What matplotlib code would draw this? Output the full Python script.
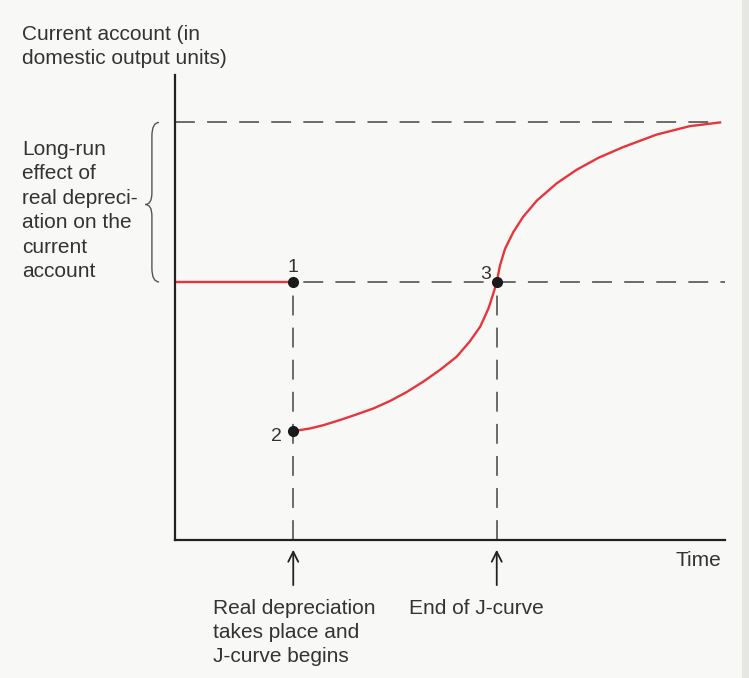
import numpy as np
import matplotlib
matplotlib.use("Agg")
import matplotlib.pyplot as plt
from matplotlib.path import Path
from matplotlib.patches import PathPatch, Rectangle

plt.rcParams['font.family'] = ['Liberation Sans', 'DejaVu Sans']

# Data (time units on x, current account on y)
t_depreciation = 2.15
t_end_jcurve = 5.85
ca_initial = 5.55
ca_dip = 2.34
ca_long_run = 8.98

# J-curve after the depreciation
curve_t = [2.15, 2.46, 2.70, 3.00, 3.30, 3.61, 3.91, 4.21, 4.52, 4.82,
           5.12, 5.36, 5.55, 5.70, 5.79, 5.85, 5.91, 6.00, 6.15, 6.33,
           6.58, 6.94, 7.30, 7.70, 8.15, 8.76, 9.36, 9.91]
curve_ca = [2.34, 2.40, 2.47, 2.58, 2.70, 2.83, 2.99, 3.18, 3.41, 3.66,
            3.94, 4.27, 4.59, 4.98, 5.31, 5.55, 5.91, 6.26, 6.62, 6.95,
            7.30, 7.67, 7.96, 8.22, 8.45, 8.72, 8.90, 8.98]

point_labels = ['1', '2', '3']
point_t = [t_depreciation, t_depreciation, t_end_jcurve]
point_ca = [ca_initial, ca_dip, ca_initial]

red = '#e5363d'
dark = '#333333'
dash_style = (0, (13, 8))

fig = plt.figure(figsize=(7.49, 6.78), dpi=100, facecolor='#f8f8f6')
fig.patches.append(Rectangle((0.991, 0), 0.009, 1, transform=fig.transFigure,
                             facecolor='#e6e6e3', edgecolor='none'))
ax = fig.add_axes([175 / 749, 138 / 678, 550 / 749, 465 / 678])
ax.set_facecolor('none')
ax.set_xlim(0, 10)
ax.set_ylim(0, 10)
for s in ['top', 'right']:
    ax.spines[s].set_visible(False)
for s in ['left', 'bottom']:
    ax.spines[s].set_linewidth(1.6)
    ax.spines[s].set_color('#222222')
ax.set_xticks([])
ax.set_yticks([])

# dashed guide lines
ax.plot([0, 9.91], [ca_long_run, ca_long_run], color='#444444', lw=1.1, linestyle=dash_style)
ax.plot([0, 10], [ca_initial, ca_initial], color='#444444', lw=1.1, linestyle=dash_style)
ax.plot([t_depreciation, t_depreciation], [0, ca_initial], color='#444444', lw=1.1, linestyle=dash_style)
ax.plot([t_end_jcurve, t_end_jcurve], [0, ca_initial], color='#444444', lw=1.1, linestyle=dash_style)

# current account path
ax.plot([0, t_depreciation], [ca_initial, ca_initial], color=red, lw=1.7, solid_capstyle='butt')
ax.plot(curve_t, curve_ca, color=red, lw=1.7, solid_joinstyle='round')

ax.plot(point_t, point_ca, 'o', color='#1a1a1a', markersize=7, zorder=5)
ax.text(point_t[0], point_ca[0] + 0.12, point_labels[0], ha='center', va='bottom', fontsize=14, color=dark)
ax.text(point_t[1] - 0.2, point_ca[1] - 0.12, point_labels[1], ha='right', va='center', fontsize=14, color=dark)
ax.text(point_t[2] - 0.1, point_ca[2] - 0.02, point_labels[2], ha='right', va='bottom', fontsize=14, color=dark)

# brace for the long-run effect
xr, xm, xl = -0.29, -0.42, -0.54
top, bot = ca_long_run, ca_initial
mid = (top + bot) / 2 - 0.05
verts = [(xr, top), (xm, top), (xm, top - 0.3),
         (xm, mid + 0.25), (xm, mid), (xl, mid),
         (xm, mid), (xm, mid - 0.25),
         (xm, bot + 0.3), (xm, bot), (xr, bot)]
codes = [Path.MOVETO, Path.CURVE3, Path.CURVE3,
         Path.LINETO, Path.CURVE3, Path.CURVE3,
         Path.CURVE3, Path.CURVE3,
         Path.LINETO, Path.CURVE3, Path.CURVE3]
ax.add_patch(PathPatch(Path(verts, codes), facecolor='none', edgecolor='#555555',
                       lw=1.0, clip_on=False))

# arrows under the time axis
for t in [t_depreciation, t_end_jcurve]:
    ax.annotate('', xy=(t, -0.15), xytext=(t, -1.03), xycoords='data',
                arrowprops=dict(arrowstyle='->', color='#222222', lw=1.3,
                                mutation_scale=18), annotation_clip=False)

fs = 15
fig.text(22 / 749, 1 - 25 / 678, 'Current account (in\ndomestic output units)',
         ha='left', va='top', fontsize=fs, color=dark, linespacing=1.3)
fig.text(22 / 749, 1 - 140 / 678,
         'Long-run\neffect of\nreal depreci-\nation on the\ncurrent\naccount',
         ha='left', va='top', fontsize=fs, color=dark, linespacing=1.36)
fig.text(721 / 749, 1 - 560 / 678, 'Time', ha='right', va='center', fontsize=fs, color=dark)
fig.text(213 / 749, 1 - 599 / 678, 'Real depreciation\ntakes place and\nJ-curve begins',
         ha='left', va='top', fontsize=fs, color=dark, linespacing=1.33)
fig.text(409 / 749, 1 - 599 / 678, 'End of J-curve',
         ha='left', va='top', fontsize=fs, color=dark)

fig.savefig('out.png', dpi=100, facecolor=fig.get_facecolor())
